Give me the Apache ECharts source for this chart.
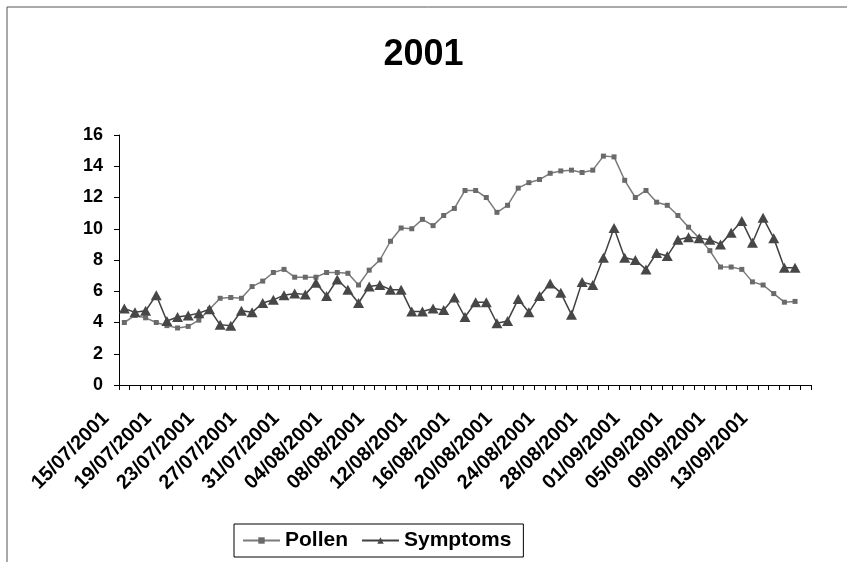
<!DOCTYPE html>
<html>
<head>
<meta charset="utf-8">
<script src="https://cdn.jsdelivr.net/npm/echarts@6/dist/echarts.min.js"></script>
<style>
  html, body { margin: 0; padding: 0; background: #fff; }
  #chart { width: 847px; height: 562px; }
</style>
</head>
<body>
<div id="chart"></div>
<script>
// daily categories, the last one has no date label
const dates = [
  '15/07/2001', '16/07/2001', '17/07/2001', '18/07/2001', '19/07/2001', '20/07/2001', '21/07/2001', '22/07/2001',
  '23/07/2001', '24/07/2001', '25/07/2001', '26/07/2001', '27/07/2001', '28/07/2001', '29/07/2001', '30/07/2001',
  '31/07/2001', '01/08/2001', '02/08/2001', '03/08/2001', '04/08/2001', '05/08/2001', '06/08/2001', '07/08/2001',
  '08/08/2001', '09/08/2001', '10/08/2001', '11/08/2001', '12/08/2001', '13/08/2001', '14/08/2001', '15/08/2001',
  '16/08/2001', '17/08/2001', '18/08/2001', '19/08/2001', '20/08/2001', '21/08/2001', '22/08/2001', '23/08/2001',
  '24/08/2001', '25/08/2001', '26/08/2001', '27/08/2001', '28/08/2001', '29/08/2001', '30/08/2001', '31/08/2001',
  '01/09/2001', '02/09/2001', '03/09/2001', '04/09/2001', '05/09/2001', '06/09/2001', '07/09/2001', '08/09/2001',
  '09/09/2001', '10/09/2001', '11/09/2001', '12/09/2001', '13/09/2001', '14/09/2001', '15/09/2001', '16/09/2001',
  ''
]

const pollen = [
  4.0, 4.45, 4.3, 4.0, 3.8, 3.65, 3.75, 4.15, 4.85, 5.55, 5.6, 5.55, 6.3, 6.65, 7.2, 7.4,
  6.9, 6.9, 6.9, 7.2, 7.2, 7.15, 6.4, 7.35, 8.0, 9.2, 10.05, 10.0, 10.6, 10.2, 10.85, 11.3,
  12.45, 12.45, 12.0, 11.05, 11.5, 12.6, 12.95, 13.15, 13.55, 13.7, 13.75, 13.6, 13.75, 14.65, 14.6, 13.1,
  12.0, 12.45, 11.7, 11.5, 10.85, 10.1, 9.4, 8.6, 7.55, 7.55, 7.4, 6.6, 6.4, 5.85, 5.3, 5.35
]

const symptoms = [
  4.9, 4.65, 4.75, 5.75, 4.1, 4.35, 4.45, 4.6, 4.85, 3.85, 3.8, 4.75, 4.65, 5.25, 5.45, 5.75,
  5.85, 5.8, 6.55, 5.7, 6.75, 6.1, 5.25, 6.3, 6.4, 6.1, 6.1, 4.7, 4.7, 4.9, 4.8, 5.6,
  4.35, 5.3, 5.3, 3.95, 4.1, 5.5, 4.65, 5.7, 6.5, 5.9, 4.5, 6.6, 6.4, 8.15, 10.05, 8.15,
  8.0, 7.4, 8.45, 8.25, 9.3, 9.45, 9.4, 9.3, 9.0, 9.75, 10.5, 9.1, 10.7, 9.4, 7.5, 7.5
]

const FONT = 'Liberation Sans, Arial, sans-serif'

const chart = echarts.init(document.getElementById('chart'))
const option = {
  backgroundColor: '#fff',
  animation: false,
  textStyle: { fontFamily: FONT },
  title: {
    text: '2001',
    left: 'center',
    top: 32,
    textStyle: { fontSize: 36, fontWeight: 'bold', color: '#000', fontFamily: FONT }
  },
  // outer chart frame (cropped on the right and bottom)
  graphic: [{
    type: 'rect',
    shape: { x: 7, y: 7, width: 900, height: 600 },
    style: { fill: 'none', stroke: '#555', lineWidth: 1 },
    silent: true
  }],
  legend: {
    data: ['Pollen', 'Symptoms'],
    left: 234,
    top: 524,
    orient: 'horizontal',
    padding: [6, 12, 6, 8],
    itemGap: 13,
    itemWidth: 37,
    itemHeight: 8,
    borderColor: '#000',
    borderWidth: 1,
    borderRadius: 0,
    textStyle: { fontSize: 21, fontWeight: 'bold', color: '#000', fontFamily: FONT }
  },
  grid: {
    left: 119,
    right: 36,
    top: 135,
    bottom: 177,
    containLabel: false
  },
  xAxis: {
    type: 'category',
    data: dates,
    boundaryGap: true,
    axisLine: { lineStyle: { color: '#000', width: 1 } },
    axisTick: { show: true, interval: 0, length: 5, lineStyle: { color: '#000' } },
    axisLabel: {
      interval: 3,
      rotate: 45,
      margin: 12,
      padding: [0, 26, 0, 0],
      fontSize: 20,
      fontWeight: 'bold',
      color: '#000',
      fontFamily: FONT
    }
  },
  yAxis: {
    type: 'value',
    min: 0,
    max: 16,
    interval: 2,
    axisLine: { show: true, lineStyle: { color: '#000', width: 1 } },
    axisTick: { show: true, length: 5, lineStyle: { color: '#000' } },
    splitLine: { show: false },
    axisLabel: {
      margin: 16,
      fontSize: 18,
      fontWeight: 'bold',
      color: '#000',
      fontFamily: FONT
    }
  },
  series: [
    {
      name: 'Pollen',
      type: 'line',
      data: pollen,
      showAllSymbol: true,
      symbol: 'rect',
      symbolSize: 5,
      lineStyle: { color: '#7a7a7a', width: 1.5 },
      itemStyle: { color: '#6a6a6a', borderWidth: 0 }
    },
    {
      name: 'Symptoms',
      type: 'line',
      data: symptoms,
      showAllSymbol: true,
      symbol: 'triangle',
      symbolSize: [11, 10],
      lineStyle: { color: '#404040', width: 1.5 },
      itemStyle: { color: '#474747', borderWidth: 0 }
    }
  ]
}
chart.setOption(option)
</script>
</body>
</html>
